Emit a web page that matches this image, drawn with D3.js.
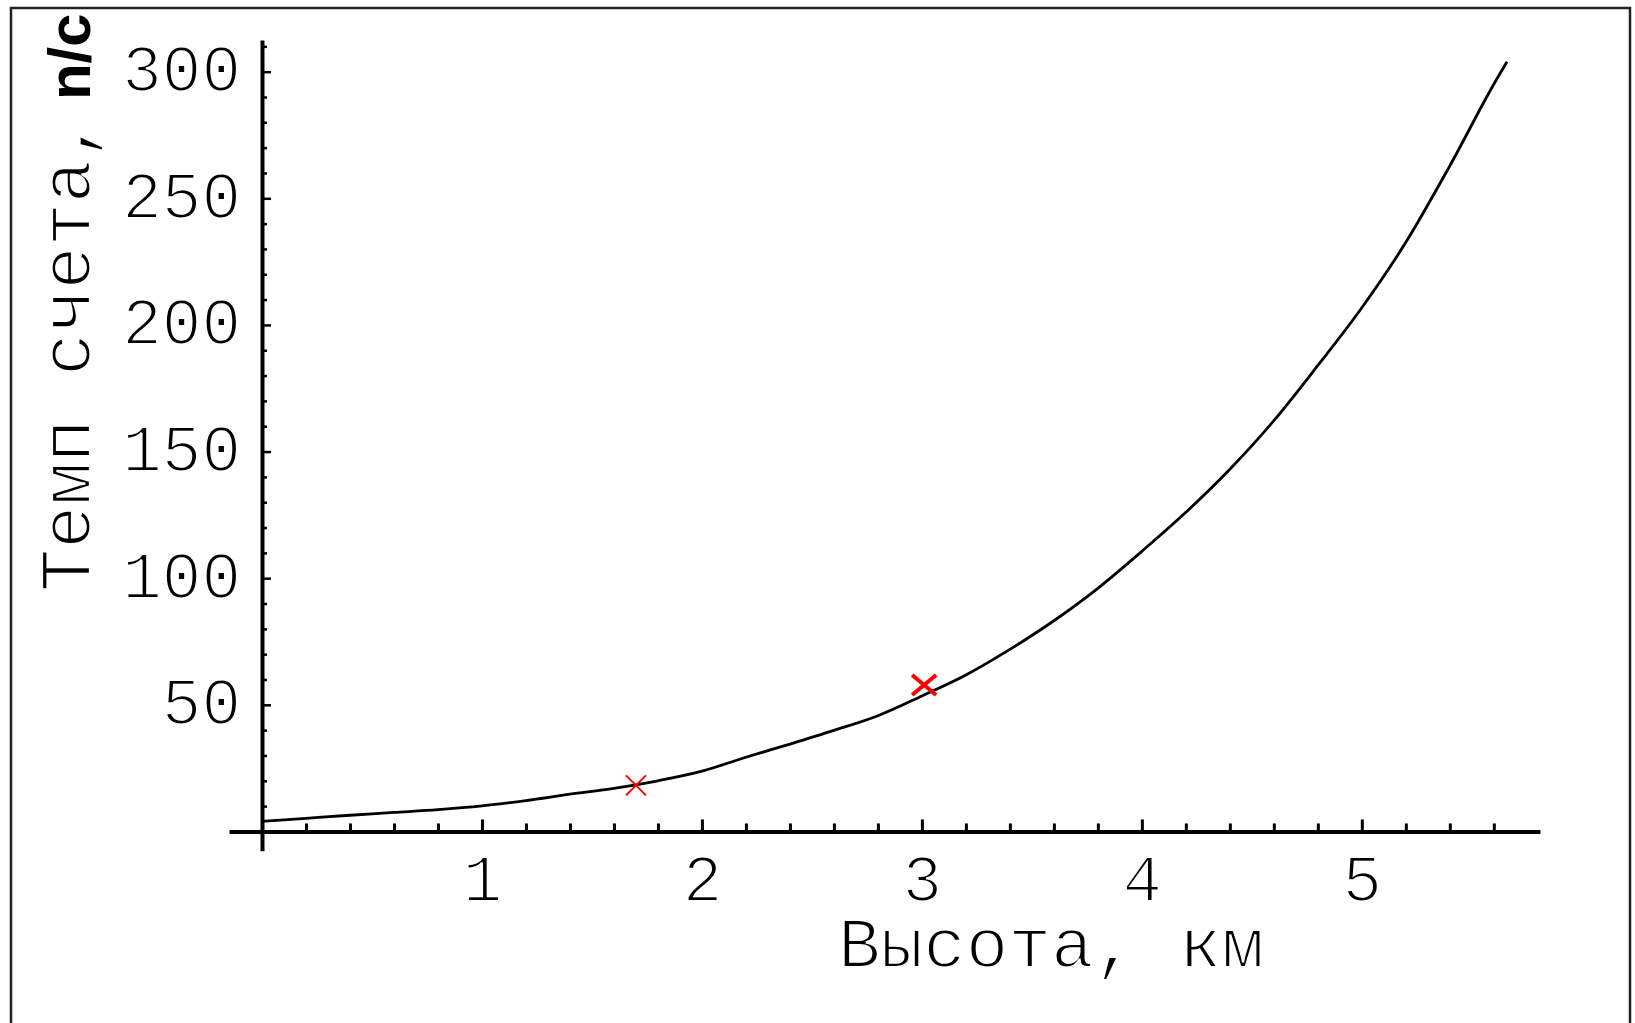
<!DOCTYPE html>
<html>
<head>
<meta charset="utf-8">
<script src="https://cdn.jsdelivr.net/npm/d3@7/dist/d3.min.js"></script>
<style>
  body { margin: 0; background: #fff; }
  svg { display: block; }
  /* the original uses a thin monospace face - erode Liberation Mono a little with a white stroke */
  .mono { font-family: "Liberation Mono", "Courier New", monospace; fill: #000; stroke: #fff; stroke-width: 2.2px; }
</style>
</head>
<body>
<div id="chart"></div>
<script>
// altitude (km) vs counting rate
const heightKm = [0, 0.2, 0.4, 0.6, 0.8, 1.0, 1.2, 1.4, 1.6, 1.8, 2.0, 2.2, 2.4, 2.6, 2.8, 3.0,
                  3.2, 3.4, 3.6, 3.8, 4.0, 4.2, 4.4, 4.6, 4.8, 5.0, 5.2, 5.4, 5.6, 5.66];
const countRate = [4.0, 5.2, 6.4, 7.5, 8.6, 10.1, 12.2, 14.7, 17.0, 20.0, 23.8, 29.3, 34.5, 39.9, 45.7, 53.5,
                   61.8, 71.9, 83.2, 96.0, 110.6, 126.0, 143.0, 162.2, 184.0, 206.8, 232.6, 262.8, 295.0, 303.9];

// the two measured points (red crosses)
const measuredKm = [1.70, 3.01];
const measuredRate = [18.2, 57.8];

const xTickValues = [1, 2, 3, 4, 5];
const yTickValues = [50, 100, 150, 200, 250, 300];

const xTitle = "Высота, км";
const yTitle = "Темп счета,";
const yUnit = " n/c";

const W = 1635, H = 1023;

const svg = d3.select('#chart')
    .append('svg')
    .attr('width', W)
    .attr('height', H);

// frame around the picture (bottom edge is cut off in the original)
svg.append('path')
    .attr('d', `M11,${H} V8 H1630 V${H}`)
    .attr('fill', 'none')
    .attr('stroke', '#222')
    .attr('stroke-width', 2.5);

// scales - the axes run a bit past zero on both sides like the Mathematica plot
const x = d3.scaleLinear().domain([-0.15, 5.81]).range([229, 1540]);
const y = d3.scaleLinear().domain([-7.6, 312.5]).range([850.7, 40]);

// minor ticks every 0.2 km and every 10 counts
const xMinor = d3.range(1, 29).map(i => i / 5).filter(v => Math.abs(v - Math.round(v)) > 1e-6);
const yMinor = d3.range(10, 320, 10).filter(v => v % 50 !== 0);

// x axis
const xg = svg.append('g')
    .attr('transform', `translate(0, ${y(0)})`);

xg.call(d3.axisBottom(x).tickValues(xTickValues).tickFormat(d3.format('d'))
    .tickSizeInner(-12).tickSizeOuter(0));
xg.select('.domain').attr('stroke-width', 4);
xg.selectAll('.tick line').attr('stroke-width', 3);
xg.selectAll('.tick text')
    .attr('class', 'mono')
    .attr('y', 70)
    .attr('dy', null)
    .attr('font-size', 66);

const xgMinor = svg.append('g')
    .attr('transform', `translate(0, ${y(0)})`)
    .call(d3.axisBottom(x).tickValues(xMinor).tickSizeInner(-8).tickSizeOuter(0).tickFormat(''));
xgMinor.select('.domain').remove();
xgMinor.selectAll('.tick line').attr('stroke-width', 3);

// y axis, ticks point inwards, labels on the left
const yg = svg.append('g')
    .attr('transform', `translate(${x(0)}, 0)`);

yg.call(d3.axisRight(y).tickValues(yTickValues).tickFormat(d3.format('d'))
    .tickSizeInner(9).tickSizeOuter(0));
yg.select('.domain').attr('stroke-width', 4);
yg.selectAll('.tick line').attr('stroke-width', 2.5);
yg.selectAll('.tick text')
    .attr('class', 'mono')
    .attr('x', -21)
    .attr('y', 19)
    .attr('dy', null)
    .attr('text-anchor', 'end')
    .attr('font-size', 66);

const ygMinor = svg.append('g')
    .attr('transform', `translate(${x(0)}, 0)`)
    .call(d3.axisRight(y).tickValues(yMinor).tickSizeInner(5).tickSizeOuter(0).tickFormat(''));
ygMinor.select('.domain').remove();
ygMinor.selectAll('.tick line').attr('stroke-width', 2.5);

// fitted curve
const curve = heightKm.map((h, i) => [h, countRate[i]]);
const line = d3.line()
    .x(d => x(d[0]))
    .y(d => y(d[1]))
    .curve(d3.curveMonotoneX);

svg.append('path')
    .datum(curve)
    .attr('d', line)
    .attr('fill', 'none')
    .attr('stroke', '#000')
    .attr('stroke-width', 2.8);

// measured points drawn as red crosses
const measured = measuredKm.map((h, i) => [h, measuredRate[i]]);
svg.selectAll('.cross')
    .data(measured)
    .enter()
    .append('path')
    .attr('class', 'cross')
    .attr('transform', d => `translate(${x(d[0])}, ${y(d[1])})`)
    .attr('d', (d, i) => i === 0 ? 'M-10,-10L10,10M-10,10L10,-10' : 'M-12,-10L12,10M-12,10L12,-10')
    .attr('fill', 'none')
    .attr('stroke', '#ff0000')
    .attr('stroke-width', (d, i) => i === 0 ? 2 : 4);

// axis titles
svg.append('text')
    .attr('class', 'mono')
    .attr('x', 838)
    .attr('y', 967)
    .attr('font-size', 71)
    .text(xTitle);

const yt = svg.append('text')
    .attr('class', 'mono')
    .attr('transform', 'translate(90, 592) rotate(-90)')
    .attr('font-size', 72);
yt.append('tspan').text(yTitle);
yt.append('tspan')
    .attr('font-family', '"Liberation Sans", Arial, sans-serif')
    .attr('font-weight', 'bold')
    .attr('font-size', 60)
    .attr('stroke', 'none')
    .text(yUnit);
</script>
</body>
</html>
